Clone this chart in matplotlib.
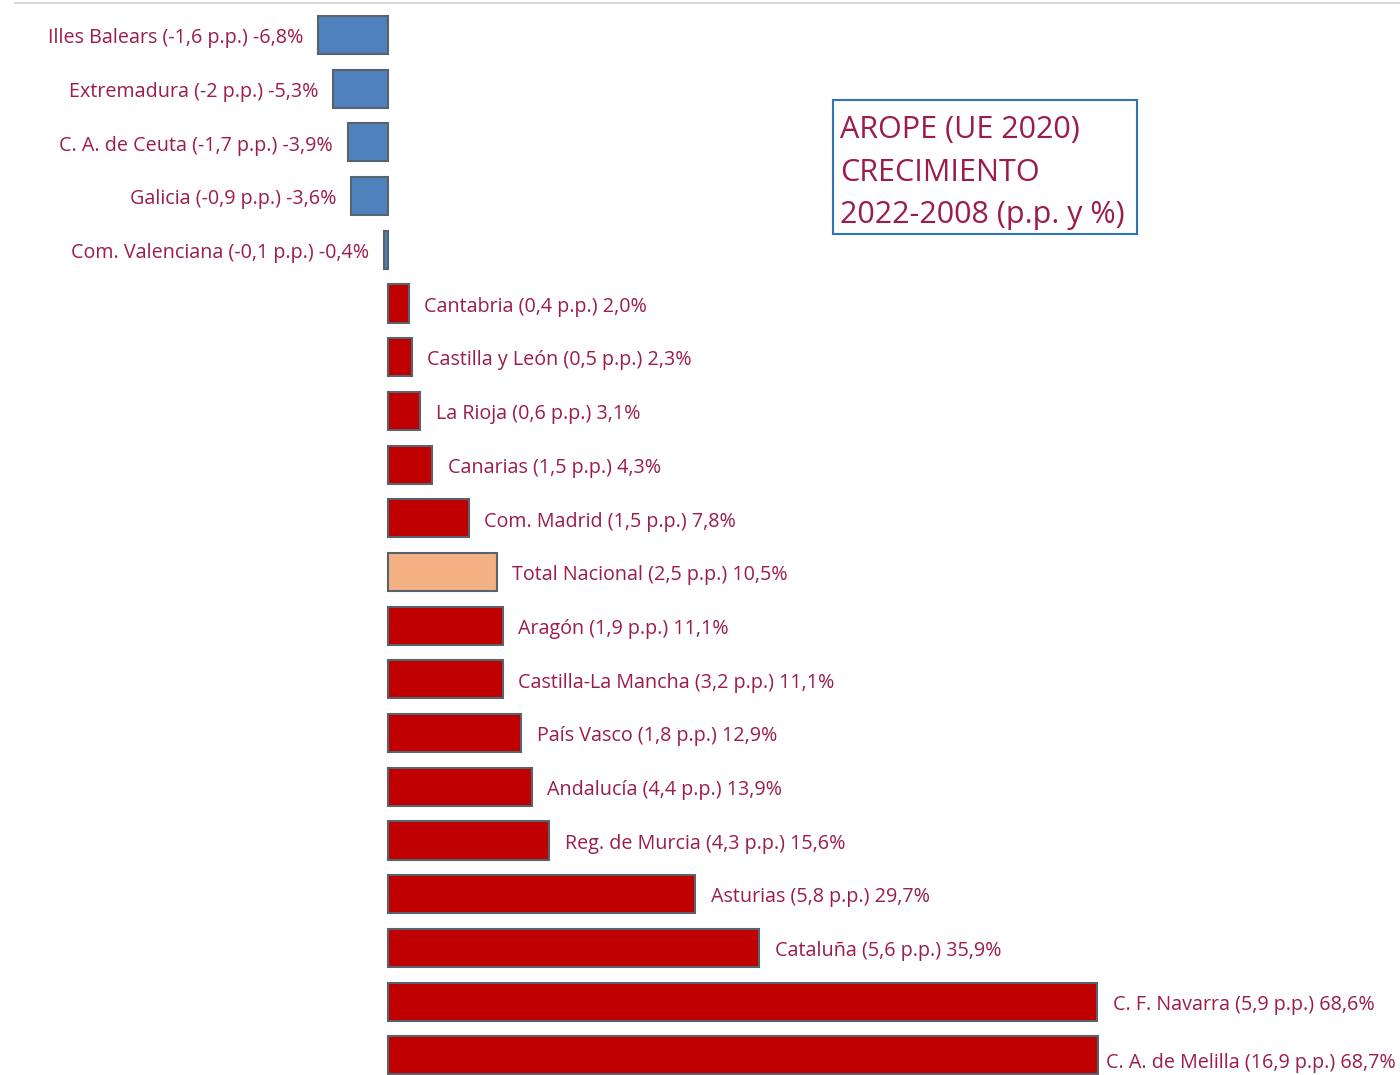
import matplotlib.pyplot as plt
from matplotlib.patches import Rectangle

# AROPE growth 2022-2008 by region
regions = ['Illes Balears', 'Extremadura', 'C. A. de Ceuta', 'Galicia',
           'Com. Valenciana', 'Cantabria', 'Castilla y León', 'La Rioja',
           'Canarias', 'Com. Madrid', 'Total Nacional', 'Aragón',
           'Castilla-La Mancha', 'País Vasco', 'Andalucía', 'Reg. de Murcia',
           'Asturias', 'Cataluña', 'C. F. Navarra', 'C. A. de Melilla']
pp_change = ['-1,6', '-2', '-1,7', '-0,9', '-0,1', '0,4', '0,5', '0,6',
             '1,5', '1,5', '2,5', '1,9', '3,2', '1,8', '4,4', '4,3',
             '5,8', '5,6', '5,9', '16,9']
pct_change = [-6.8, -5.3, -3.9, -3.6, -0.4, 2.0, 2.3, 3.1,
              4.3, 7.8, 10.5, 11.1, 11.1, 12.9, 13.9, 15.6,
              29.7, 35.9, 68.6, 68.7]
title_lines = ['AROPE (UE 2020)', 'CRECIMIENTO', '2022-2008 (p.p. y %)']

TXT = '#9c1c4c'
FONT = 'Open Sans'
FS = 14.2

fig = plt.figure(figsize=(14, 10.75), dpi=100)
ax = fig.add_axes([0, 0, 1, 1])

colors = []
for name, v in zip(regions, pct_change):
    if name == 'Total Nacional':
        colors.append('#f4b183')
    elif v < 0:
        colors.append('#4f81bd')
    else:
        colors.append('#c00000')

pos = range(len(regions))
ax.barh(pos, pct_change, height=0.71, color=colors,
        edgecolor='#59636e', linewidth=1.5)

xmax = 97.87
for i, (name, pp, v) in enumerate(zip(regions, pp_change, pct_change)):
    label = f"{name} ({pp} p.p.) " + f"{v:.1f}".replace('.', ',') + '%'
    y = i + 0.06
    if v < 0:
        ax.text(v - 1.4, y, label, ha='right', va='center', color=TXT,
                fontsize=FS, family=FONT)
    elif i == len(regions) - 1:
        # last label doesn't fit: pull it inside with white background
        ax.text(xmax - 0.4, y + 0.08, label, ha='right', va='center', color=TXT,
                fontsize=FS, family=FONT,
                bbox=dict(facecolor='white', edgecolor='none', pad=2))
    else:
        ax.text(v + 1.5, y, label, ha='left', va='center', color=TXT,
                fontsize=FS, family=FONT)

# title box
ax.add_patch(Rectangle((0.595, 0.782), 0.217, 0.125, transform=ax.transAxes,
                       facecolor='white', edgecolor='#2e75b6', linewidth=1.5))
for k, line in enumerate(title_lines):
    ax.text(0.6, 0.879 - k * 0.0395, line, transform=ax.transAxes,
            ha='left', va='center', color=TXT, fontsize=22, family=FONT)

# top border line
ax.plot([0.0107, 1], [0.997, 0.997], transform=ax.transAxes,
        color='#d9d9d9', linewidth=1.5)

ax.set_xlim(-37.52, xmax)
ax.set_ylim(19.367, -0.652)
ax.axis('off')

fig.savefig('out.png', dpi=100)
